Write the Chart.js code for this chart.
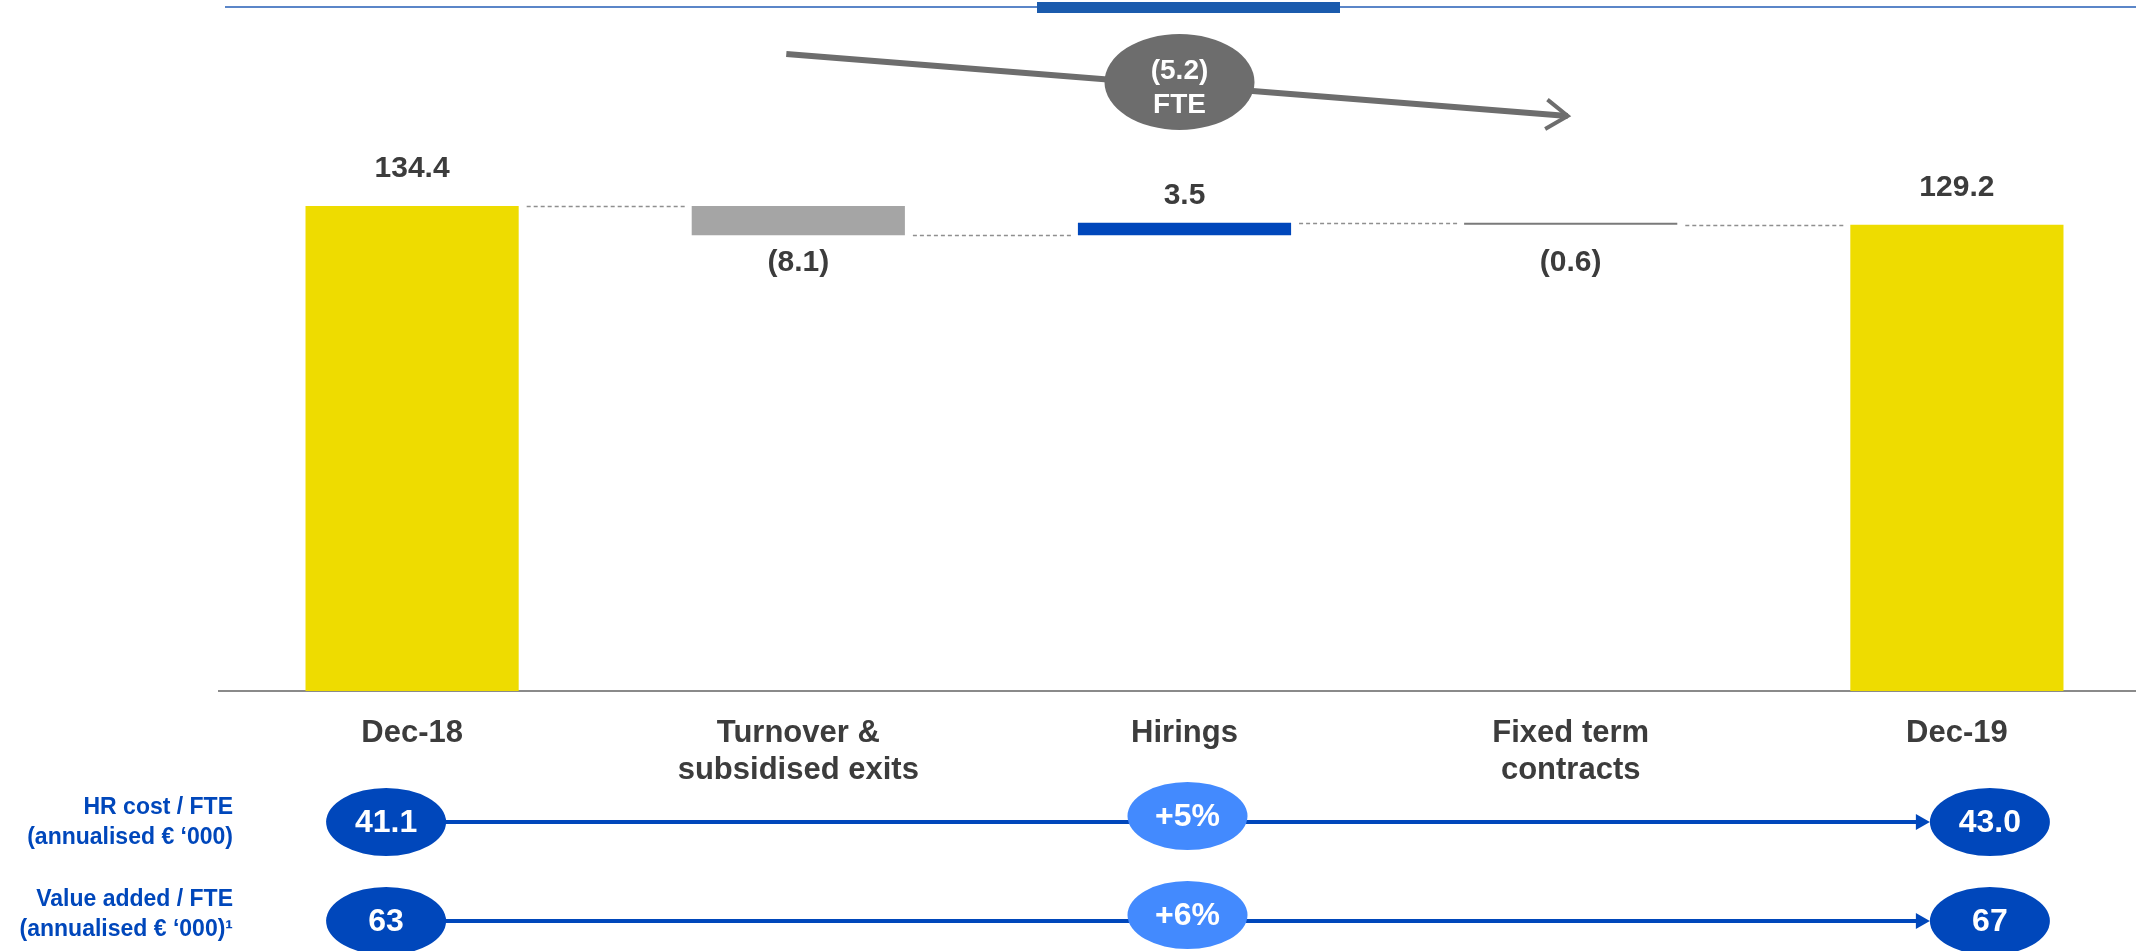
<!DOCTYPE html>
<html>
<head>
<meta charset="utf-8">
<script src="https://cdn.jsdelivr.net/npm/chart.js@4"></script>
<style>
  html, body { margin: 0; padding: 0; background: #fff; overflow: hidden; }
  #wrap { width: 2150px; height: 951px; }
</style>
</head>
<body>
<div id="wrap"><canvas id="waterfall" width="2150" height="951"></canvas></div>
<script>
const categories = ['Dec-18', ['Turnover &', 'subsidised exits'], 'Hirings', ['Fixed term', 'contracts'], 'Dec-19']
const steps = [134.4, -8.1, 3.5, -0.6, 129.2]
const isTotal = [true, false, false, false, true]
const stepLabels = ['134.4', '(8.1)', '3.5', '(0.6)', '129.2']
const netChange = ['(5.2)', 'FTE']

const kpiNames = [['HR cost / FTE', '(annualised € ‘000)'], ['Value added / FTE', '(annualised € ‘000)¹']]
const kpiStart = ['41.1', '63']
const kpiGrowth = ['+5%', '+6%']
const kpiEnd = ['43.0', '67']

const FONT = '"Liberation Sans", Arial, Helvetica, sans-serif'
const DARK_TEXT = '#3c3c3c'
const BLUE = '#0047BB'

// floating ranges for the waterfall
let running = 0
const ranges = []
const levels = []
for (let i = 0; i < steps.length; i++) {
  if (isTotal[i]) {
    ranges.push([0, steps[i]])
    running = steps[i]
  } else {
    ranges.push([running, running + steps[i]])
    running += steps[i]
  }
  levels.push(running)
}

const barColors = ['#EEDC00', '#A5A5A5', '#0047BB', '#7A7A7A', '#EEDC00']

function ellipse(ctx, cx, cy, rx, ry, fill) {
  ctx.beginPath()
  ctx.ellipse(cx, cy, rx, ry, 0, 0, Math.PI * 2)
  ctx.fillStyle = fill
  ctx.fill()
}

const waterfallDecor = {
  id: 'waterfallDecor',
  afterDatasetsDraw(chart) {
    const { ctx, chartArea, scales } = chart
    const x = scales.x
    const y = scales.y
    const bars = chart.getDatasetMeta(0).data
    ctx.save()

    // header rule
    ctx.fillStyle = '#5B86C8'
    ctx.fillRect(225, 6, chart.width - 225, 2)
    ctx.fillStyle = '#1B5BAD'
    ctx.fillRect(1037, 2, 303, 11)

    // dashed connectors between bars
    ctx.strokeStyle = '#8f8f8f'
    ctx.lineWidth = 1.3
    ctx.setLineDash([4, 3])
    for (let i = 0; i < bars.length - 1; i++) {
      const lvl = Math.round(y.getPixelForValue(levels[i])) + 0.5
      const from = bars[i].x + bars[i].width / 2 + 8
      const to = bars[i + 1].x - bars[i + 1].width / 2 - 4
      ctx.beginPath()
      ctx.moveTo(from, lvl)
      ctx.lineTo(to, lvl)
      ctx.stroke()
    }
    ctx.setLineDash([])

    // value labels
    let negTop = 0
    bars.forEach((b, i) => {
      if (!isTotal[i] && steps[i] < 0) negTop = Math.max(negTop, Math.max(b.y, b.base))
    })
    ctx.font = 'bold 30px ' + FONT
    ctx.fillStyle = DARK_TEXT
    ctx.textAlign = 'center'
    bars.forEach((b, i) => {
      const top = Math.min(b.y, b.base)
      if (!isTotal[i] && steps[i] < 0) {
        ctx.textBaseline = 'middle'
        ctx.fillText(stepLabels[i], b.x, negTop + 27)
      } else {
        ctx.textBaseline = 'alphabetic'
        ctx.fillText(stepLabels[i], b.x, top - (isTotal[i] ? 29 : 19))
      }
    })

    // overall change arrow
    const ax0 = x.getPixelForValue(1) - 12
    const ay0 = chartArea.top + 54
    const ax1 = x.getPixelForValue(3) - 3
    const ay1 = chartArea.top + 116
    ctx.strokeStyle = '#6d6d6d'
    ctx.lineWidth = 6
    ctx.lineCap = 'butt'
    ctx.beginPath()
    ctx.moveTo(ax0, ay0)
    ctx.lineTo(ax1, ay1)
    ctx.stroke()
    const ang = Math.atan2(ay1 - ay0, ax1 - ax0)
    ctx.lineWidth = 4
    ctx.lineJoin = 'miter'
    ctx.beginPath()
    ctx.moveTo(ax1 - 26 * Math.cos(ang - 0.6), ay1 - 26 * Math.sin(ang - 0.6))
    ctx.lineTo(ax1, ay1)
    ctx.lineTo(ax1 - 26 * Math.cos(ang + 0.6), ay1 - 26 * Math.sin(ang + 0.6))
    ctx.stroke()
    const ecx = x.getPixelForValue(2) - 5
    const ecy = chartArea.top + 82
    ellipse(ctx, ecx, ecy, 75, 48, '#6d6d6d')
    ctx.fillStyle = '#ffffff'
    ctx.font = 'bold 28px ' + FONT
    ctx.textBaseline = 'middle'
    ctx.fillText(netChange[0], ecx, ecy - 11)
    ctx.fillText(netChange[1], ecx, ecy + 23)

    // KPI rows
    const rowY = [chartArea.bottom + 131, chartArea.bottom + 230]
    const nameY = [chartArea.bottom + 117, chartArea.bottom + 209]
    const lx = x.getPixelForValue(0) - 26
    const mx = x.getPixelForValue(2) + 3
    const rx = x.getPixelForValue(4) + 33
    kpiNames.forEach((lines, r) => {
      const ry = rowY[r]
      ctx.font = 'bold 23px ' + FONT
      ctx.fillStyle = BLUE
      ctx.textAlign = 'right'
      ctx.textBaseline = 'middle'
      lines.forEach((t, k) => ctx.fillText(t, 233, nameY[r] + k * 30))

      ctx.strokeStyle = BLUE
      ctx.lineWidth = 4
      ctx.beginPath()
      ctx.moveTo(lx + 58, ry)
      ctx.lineTo(mx - 58, ry)
      ctx.moveTo(mx + 58, ry)
      ctx.lineTo(rx - 72, ry)
      ctx.stroke()
      ctx.fillStyle = BLUE
      ctx.beginPath()
      ctx.moveTo(rx - 60, ry)
      ctx.lineTo(rx - 74, ry - 8)
      ctx.lineTo(rx - 74, ry + 8)
      ctx.closePath()
      ctx.fill()

      ellipse(ctx, lx, ry, 60, 34, BLUE)
      ellipse(ctx, mx, ry - 6, 60, 34, '#438AFE')
      ellipse(ctx, rx, ry, 60, 34, BLUE)
      ctx.fillStyle = '#ffffff'
      ctx.font = 'bold 32px ' + FONT
      ctx.textAlign = 'center'
      ctx.fillText(kpiStart[r], lx, ry + 1)
      ctx.fillText(kpiGrowth[r], mx, ry - 5)
      ctx.fillText(kpiEnd[r], rx, ry + 1)
    })
    ctx.restore()
  }
}

new Chart(document.getElementById('waterfall'), {
  type: 'bar',
  data: {
    labels: categories,
    datasets: [{
      data: ranges,
      backgroundColor: barColors,
      borderWidth: 0,
      borderSkipped: false,
      barPercentage: 0.552,
      categoryPercentage: 1
    }]
  },
  options: {
    responsive: false,
    animation: false,
    layout: { padding: { left: 219, right: 0, top: 0, bottom: 0 } },
    plugins: {
      legend: { display: false },
      tooltip: { enabled: false },
      title: { display: false }
    },
    scales: {
      x: {
        grid: { display: false },
        border: { display: true, color: '#8a8a8a', width: 2 },
        ticks: {
          color: DARK_TEXT,
          font: { family: FONT, size: 31, weight: 'bold', lineHeight: 1.2 },
          padding: 16,
          maxRotation: 0,
          autoSkip: false
        },
        afterFit(scale) { scale.height = 260 }
      },
      y: {
        display: false,
        min: 0,
        max: 191.5
      }
    }
  },
  plugins: [waterfallDecor]
})
</script>
</body>
</html>
